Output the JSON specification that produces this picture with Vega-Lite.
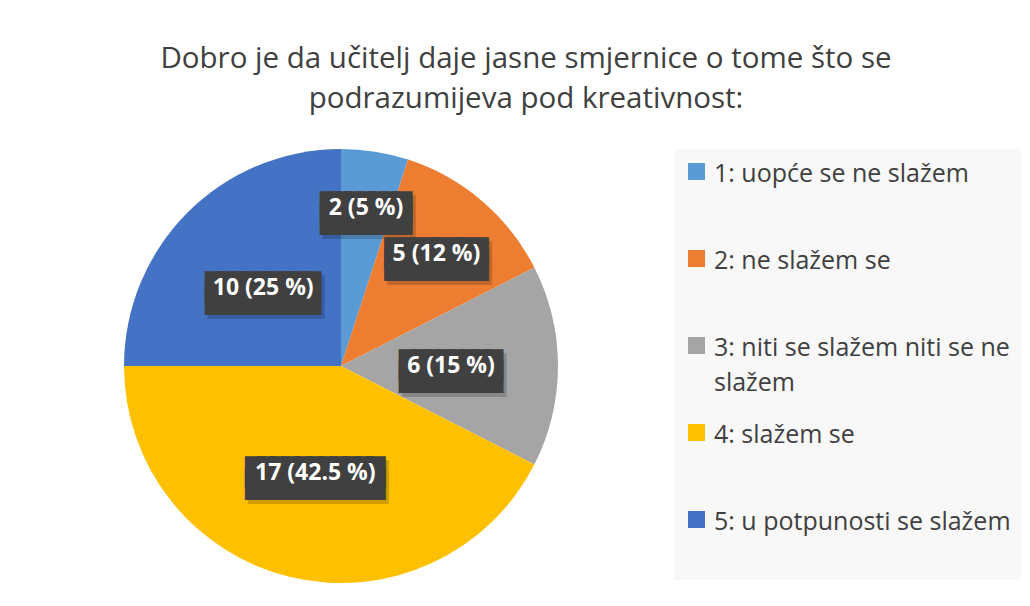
{
  "$schema": "https://vega.github.io/schema/vega-lite/v6.json",
  "padding": {"left": 124, "top": 44, "right": 0, "bottom": 0},
  "background": "white",
  "width": 434,
  "height": 434,
  "title": {
    "text": ["Dobro je da učitelj daje jasne smjernice o tome što se", "podrazumijeva pod kreativnost:"],
    "anchor": "middle",
    "frame": "group",
    "dx": 185,
    "font": "Open Sans",
    "fontSize": 29.5,
    "fontWeight": "normal",
    "color": "#404040",
    "lineHeight": 40,
    "offset": 34.5
  },
  "data": {
    "values": [
      {"idx": 1, "cat": "1: uopće se ne slažem", "n": 2, "label": "2 (5 %)"},
      {"idx": 2, "cat": "2: ne slažem se", "n": 5, "label": "5 (12 %)"},
      {"idx": 3, "cat": "3: niti se slažem niti se ne slažem", "n": 6, "label": "6 (15 %)"},
      {"idx": 4, "cat": "4: slažem se", "n": 17, "label": "17 (42.5 %)"},
      {"idx": 5, "cat": "5: u potpunosti se slažem", "n": 10, "label": "10 (25 %)"}
    ]
  },
  "transform": [
    {"calculate": "[replace(datum.label, regexp('.', 'g'), '█'), replace(datum.label, regexp('.', 'g'), '█')]", "as": "box"}
  ],
  "encoding": {
    "theta": {"field": "n", "type": "quantitative", "stack": true},
    "order": {"field": "idx", "type": "quantitative", "sort": "ascending"}
  },
  "layer": [
    {
      "mark": {"type": "arc", "outerRadius": 217},
      "encoding": {
        "color": {
          "field": "cat",
          "type": "nominal",
          "scale": {
            "domain": ["1: uopće se ne slažem", "2: ne slažem se", "3: niti se slažem niti se ne slažem", "4: slažem se", "5: u potpunosti se slažem"],
            "range": ["#5B9BD5", "#ED7D31", "#A5A5A5", "#FFC000", "#4472C4"]
          },
          "legend": {
            "title": null,
            "orient": "right",
            "offset": 116,
            "padding": 10,
            "fillColor": "#f8f8f8",
            "symbolType": "square",
            "symbolSize": 289,
            "symbolStrokeWidth": 0,
            "symbolOpacity": 1,
            "symbolOffset": 0,
            "labelFont": "Open Sans",
            "labelFontSize": 25,
            "labelColor": "#404040",
            "labelLimit": 400,
            "labelOffset": 5,
            "labelBaseline": "top",
            "rowPadding": 24,
            "gridAlign": "all",
            "labelExpr": "length(datum.label) > 29 ? [substring(datum.label, 0, lastindexof(substring(datum.label, 0, 29), ' ')), substring(datum.label, lastindexof(substring(datum.label, 0, 29), ' ') + 1)] : [datum.label, ' ']",
            "encode": {"labels": {"update": {"dy": {"value": -10}, "lineHeight": {"value": 35}}}}
          }
        }
      }
    },
    {
      "mark": {"type": "text", "font": "DejaVu Sans Mono", "fontSize": 20, "lineHeight": 12, "fill": "#000000", "stroke": "#000000", "strokeWidth": 8, "strokeJoin": "miter", "opacity": 0.18, "dx": 3, "dy": 4, "align": "center", "baseline": "middle"},
      "encoding": {
        "text": {"field": "box", "type": "nominal"},
        "radius": {"field": "n", "type": "quantitative", "scale": {"type": "linear", "domain": [2, 5, 6], "range": [160, 147, 110], "clamp": true, "zero": false}}
      }
    },
    {
      "mark": {"type": "text", "font": "DejaVu Sans Mono", "fontSize": 20, "lineHeight": 12, "fill": "#404040", "stroke": "#404040", "strokeWidth": 8, "strokeJoin": "miter", "align": "center", "baseline": "middle"},
      "encoding": {
        "text": {"field": "box", "type": "nominal"},
        "radius": {"field": "n", "type": "quantitative"}
      }
    },
    {
      "mark": {"type": "text", "font": "Open Sans", "fontSize": 23, "fontWeight": "bold", "fill": "#ffffff", "align": "center", "baseline": "middle"},
      "encoding": {
        "text": {"field": "label", "type": "nominal"},
        "radius": {"field": "n", "type": "quantitative"}
      }
    }
  ],
  "config": {"view": {"stroke": null}}
}
